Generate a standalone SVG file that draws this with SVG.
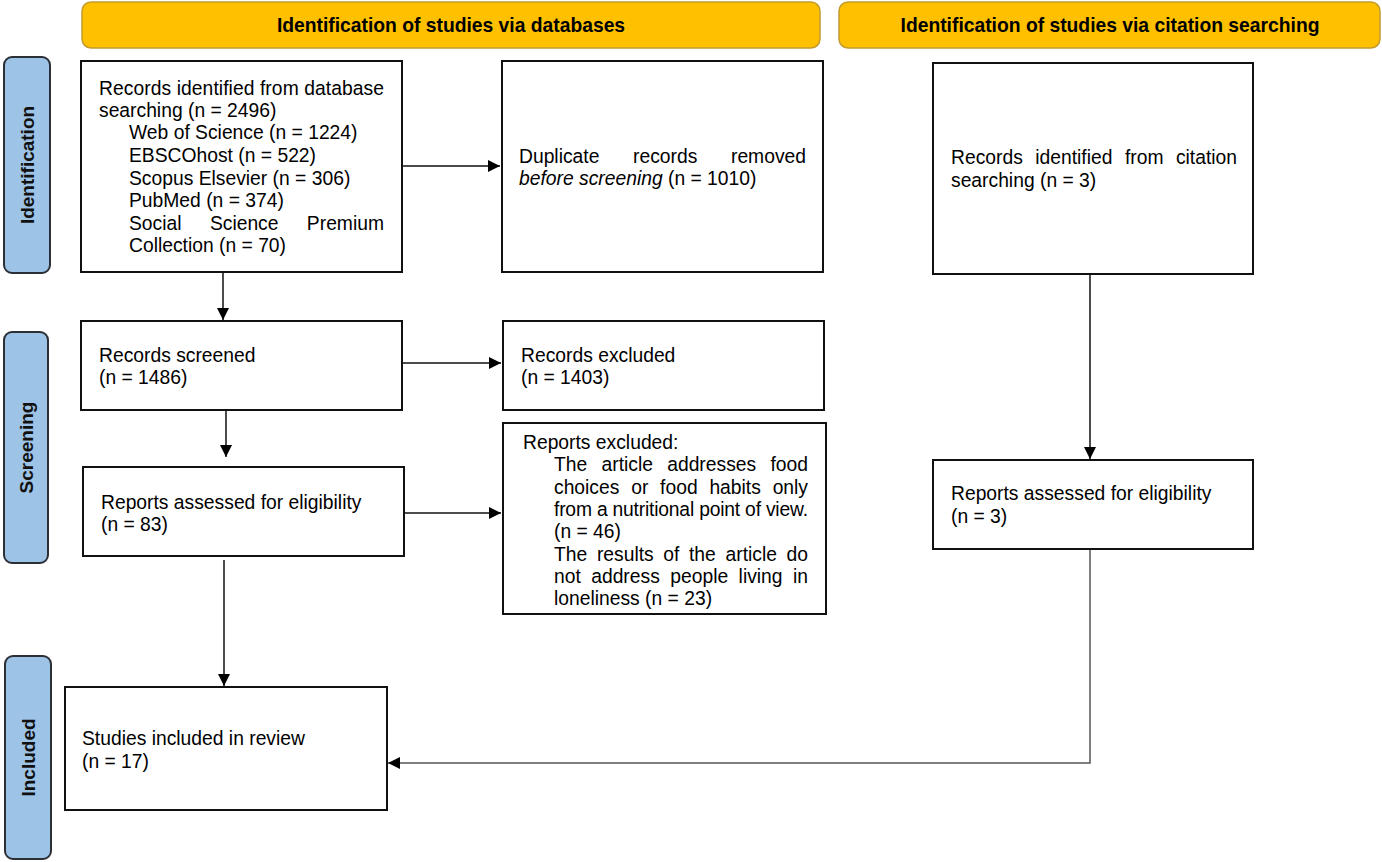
<svg xmlns="http://www.w3.org/2000/svg" width="1382" height="862" viewBox="0 0 1382 862">
<style>
.box{fill:#fff;stroke:#111;stroke-width:2}
.hdr{fill:#FFC000;stroke:#C39B2C;stroke-width:1.5}
.side{fill:#9DC3E6;stroke:#2B2F36;stroke-width:2}
.t{font-family:"Liberation Sans",Arial,sans-serif;font-size:19.3px;fill:#000}
.hb{font-family:"Liberation Sans",Arial,sans-serif;font-size:19.3px;font-weight:bold;fill:#000;text-anchor:middle}
.sb{font-family:"Liberation Sans",Arial,sans-serif;font-size:19px;font-weight:bold;fill:#111;text-anchor:middle}
.c{fill:none;stroke:#111;stroke-width:1.5}
.g{fill:none;stroke:#555;stroke-width:1.5}
</style>
<defs>
<marker id="ah" markerUnits="userSpaceOnUse" markerWidth="14" markerHeight="12" refX="12" refY="6" orient="auto">
<path d="M0,0 L12,6 L0,12 Z" fill="#000"/>
</marker>
</defs>

<g id="header-databases">
<rect class="hdr" x="82" y="2" width="738" height="46" rx="9"/>
<text class="hb" x="451" y="32">Identification of studies via databases</text>
</g>
<g id="header-citation">
<rect class="hdr" x="839" y="2" width="541" height="46" rx="9"/>
<text class="hb" x="1110" y="32">Identification of studies via citation searching</text>
</g>

<g id="phase-identification">
<rect class="side" x="4" y="57" width="46" height="216" rx="8"/>
<text class="sb" transform="translate(27,165) rotate(-90)" x="0" y="6.8">Identification</text>
</g>
<g id="phase-screening">
<rect class="side" x="4" y="332" width="44" height="231" rx="8"/>
<text class="sb" transform="translate(26,447.5) rotate(-90)" x="0" y="6.8">Screening</text>
</g>
<g id="phase-included">
<rect class="side" x="5" y="656" width="46" height="203" rx="8"/>
<text class="sb" transform="translate(28,757.5) rotate(-90)" x="0" y="6.8">Included</text>
</g>

<g id="connectors">
<path class="c" d="M402,166 H500" marker-end="url(#ah)"/>
<path class="c" d="M223,272 V320" marker-end="url(#ah)"/>
<path class="c" d="M402,363 H501" marker-end="url(#ah)"/>
<path class="c" d="M226,410 V457" marker-end="url(#ah)"/>
<path class="c" d="M404,513 H501" marker-end="url(#ah)"/>
<path class="c" d="M224,560 V686" marker-end="url(#ah)"/>
<path class="c" d="M1090,274 V459" marker-end="url(#ah)"/>
<path class="g" d="M1090,549 V763 H388" marker-end="url(#ah)"/>
</g>

<g id="records-identified">
<rect class="box" x="81" y="61" width="321" height="211"/>
<text class="t" x="99" y="95" textLength="285" lengthAdjust="spacing">Records identified from database</text>
<text class="t" x="99" y="117">searching (n = 2496)</text>
<text class="t" x="129" y="139">Web of Science (n = 1224)</text>
<text class="t" x="129" y="162">EBSCOhost (n = 522)</text>
<text class="t" x="129" y="185">Scopus Elsevier (n = 306)</text>
<text class="t" x="129" y="207">PubMed (n = 374)</text>
<text class="t" y="230"><tspan x="129">Social</tspan><tspan x="209.9">Science</tspan><tspan x="384" text-anchor="end">Premium</tspan></text>
<text class="t" x="129" y="252">Collection (n = 70)</text>
</g>

<g id="duplicates-removed">
<rect class="box" x="502" y="61" width="321" height="211"/>
<text class="t" y="163"><tspan x="519">Duplicate</tspan><tspan x="633">records</tspan><tspan x="806" text-anchor="end">removed</tspan></text>
<text class="t" x="519" y="185"><tspan font-style="italic">before screening</tspan> (n = 1010)</text>
</g>

<g id="citation-records">
<rect class="box" x="933" y="63" width="320" height="211"/>
<text class="t" y="164"><tspan x="951">Records</tspan><tspan x="1035.2">identified</tspan><tspan x="1124.9">from</tspan><tspan x="1237" text-anchor="end">citation</tspan></text>
<text class="t" x="951" y="187">searching (n = 3)</text>
</g>

<g id="records-screened">
<rect class="box" x="81" y="321" width="321" height="89"/>
<text class="t" x="99" y="362">Records screened</text>
<text class="t" x="99" y="384">(n = 1486)</text>
</g>

<g id="records-excluded">
<rect class="box" x="503" y="321" width="321" height="89"/>
<text class="t" x="521" y="362">Records excluded</text>
<text class="t" x="521" y="384">(n = 1403)</text>
</g>

<g id="reports-assessed">
<rect class="box" x="83" y="467" width="321" height="89"/>
<text class="t" x="101" y="509">Reports assessed for eligibility</text>
<text class="t" x="101" y="531">(n = 83)</text>
</g>

<g id="reports-excluded">
<rect class="box" x="503" y="423" width="323" height="191"/>
<text class="t" x="523" y="449">Reports excluded:</text>
<text class="t" y="471"><tspan x="554">The</tspan><tspan x="601.5">article</tspan><tspan x="667.2">addresses</tspan><tspan x="808" text-anchor="end">food</tspan></text>
<text class="t" y="494"><tspan x="554">choices</tspan><tspan x="631.2">or</tspan><tspan x="660.1">food</tspan><tspan x="709.4">habits</tspan><tspan x="808" text-anchor="end">only</tspan></text>
<text class="t" x="554" y="516" textLength="254" lengthAdjust="spacing">from a nutritional point of view.</text>
<text class="t" x="554" y="538">(n = 46)</text>
<text class="t" y="561"><tspan x="554">The</tspan><tspan x="596.9">results</tspan><tspan x="663.3">of</tspan><tspan x="689">the</tspan><tspan x="725.5">article</tspan><tspan x="808" text-anchor="end">do</tspan></text>
<text class="t" y="583"><tspan x="554">not</tspan><tspan x="591.2">address</tspan><tspan x="670.3">people</tspan><tspan x="738.6">living</tspan><tspan x="808" text-anchor="end">in</tspan></text>
<text class="t" x="554" y="605">loneliness (n = 23)</text>
</g>

<g id="citation-reports-assessed">
<rect class="box" x="933" y="460" width="320" height="89"/>
<text class="t" x="951" y="500">Reports assessed for eligibility</text>
<text class="t" x="951" y="523">(n = 3)</text>
</g>

<g id="studies-included">
<rect class="box" x="65" y="687" width="322" height="123"/>
<text class="t" x="82" y="745">Studies included in review</text>
<text class="t" x="82" y="768">(n = 17)</text>
</g>
</svg>
